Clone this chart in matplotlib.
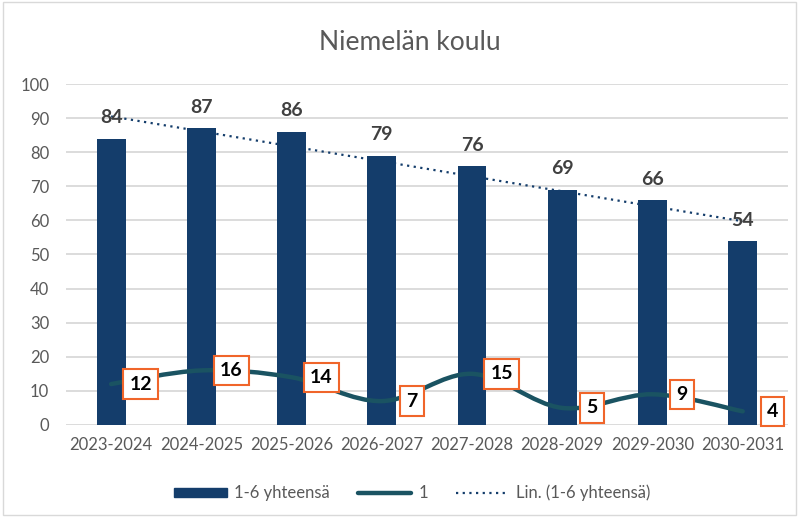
import numpy as np
import matplotlib
matplotlib.use("Agg")
import matplotlib.pyplot as plt
from matplotlib.path import Path
from matplotlib.patches import PathPatch, Rectangle
from matplotlib.lines import Line2D
from matplotlib.patches import Patch

plt.rcParams['font.family'] = ['Lato', 'DejaVu Sans']

#-------------------------------------------------------------------------------
years = ['2023-2024', '2024-2025', '2025-2026', '2026-2027',
         '2027-2028', '2028-2029', '2029-2030', '2030-2031']
total_1_6 = [84, 87, 86, 79, 76, 69, 66, 54]
grade_1 = [12, 16, 14, 7, 15, 5, 9, 4]

BAR_COLOR = '#143d6b'
LINE_COLOR = '#1a5362'
BOX_EDGE = '#f0652a'
GRID = '#d9d9d9'
TICK = '#595959'

#-------------------------------------------------------------------------------
def smooth_path(xs, ys):
    # Excel-style smoothed line: bezier segments through the data points
    pts = np.column_stack([xs, ys]).astype(float)
    ext = np.vstack([pts[0], pts, pts[-1]])
    verts = [pts[0]]
    codes = [Path.MOVETO]
    for i in range(len(pts) - 1):
        p0, p1, p2, p3 = ext[i], ext[i + 1], ext[i + 2], ext[i + 3]
        c1 = p1 + (p2 - p0) / 6.0
        c2 = p2 - (p3 - p1) / 6.0
        verts += [c1, c2, p2]
        codes += [Path.CURVE4] * 3
    return Path(verts, codes)

#-------------------------------------------------------------------------------
fig = plt.figure(figsize=(7.99, 5.17), dpi=100)
fig.patches.append(Rectangle((0.004, 0.004), 0.992, 0.992, transform=fig.transFigure,
                             fill=False, edgecolor='#d9d9d9', linewidth=1.0))
ax = fig.add_axes([0.0826, 0.178, 0.9034, 0.6595])

x = np.arange(len(years))
ax.bar(x, total_1_6, width=0.32, color=BAR_COLOR, zorder=2)

# bar labels
for xi, v in zip(x, total_1_6):
    ax.annotate(str(v), (xi, v), xytext=(0, 15), textcoords='offset points',
                ha='center', va='center', fontsize=14, fontweight='bold',
                color='#404040', zorder=5)

# linear trend of the bar series
coef = np.polyfit(x, total_1_6, 1)
ax.plot(x, np.polyval(coef, x), linestyle=(0, (1, 2)), color=BAR_COLOR,
        linewidth=1.6, zorder=4)

# smoothed line for grade 1
ax.add_patch(PathPatch(smooth_path(x, grade_1), fill=False, edgecolor=LINE_COLOR,
                       linewidth=3.2, capstyle='round', zorder=3))

for xi, v in zip(x, grade_1):
    ax.annotate(str(v), (xi, v), xytext=(21.5, 0), textcoords='offset points',
                ha='center', va='center', fontsize=14, fontweight='bold',
                color='black', zorder=6,
                bbox=dict(boxstyle='square,pad=0.32', facecolor='white',
                          edgecolor=BOX_EDGE, linewidth=1.5))

ax.set_xlim(-0.5, len(years) - 0.5)
ax.set_ylim(0, 100)
ax.set_yticks(range(0, 101, 10))
ax.set_xticks(x)
ax.set_xticklabels(years)
ax.tick_params(axis='both', length=0, labelsize=12, labelcolor=TICK)
ax.tick_params(axis='x', pad=9)
ax.tick_params(axis='y', pad=12)
ax.grid(axis='y', color=GRID, linewidth=1.3, zorder=0)
ax.set_axisbelow(True)
for s in ax.spines.values():
    s.set_visible(False)

fig.text(0.513, 0.918, 'Niemelän koulu', ha='center', va='center',
         fontsize=19, color='#595959')

handles = [Patch(facecolor=BAR_COLOR, edgecolor=BAR_COLOR),
           Line2D([], [], color=LINE_COLOR, linewidth=3.2, solid_capstyle='round'),
           Line2D([], [], color=BAR_COLOR, linewidth=1.6, linestyle=(0, (1, 2)))]
fig.legend(handles, ['1-6 yhteensä', '1', 'Lin. (1-6 yhteensä)'],
           loc='center', bbox_to_anchor=(0.516, 0.047), ncol=3, frameon=False,
           fontsize=12, labelcolor=TICK, handlelength=3.2, handleheight=0.45,
           columnspacing=1.7, handletextpad=0.4)

fig.savefig('out.png', dpi=100)
